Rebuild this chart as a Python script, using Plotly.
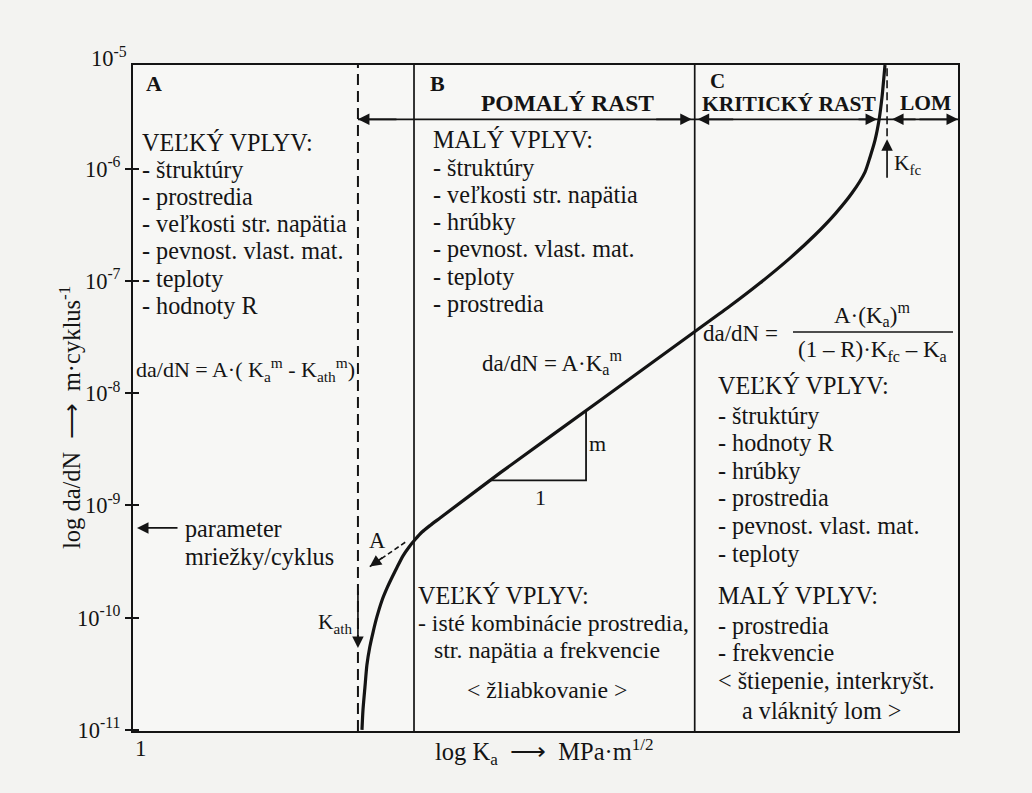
import math
import plotly.graph_objects as go

# Fatigue crack growth curve: stress intensity amplitude K_a (MPa·m^1/2)
# against crack growth rate da/dN (m per cycle)
K_CURVE = [3.59, 3.61, 3.65, 3.69, 3.75, 3.82, 3.90, 4.01, 4.13, 4.25, 4.37,
           4.51, 4.67, 4.83, 5.02, 5.25, 5.55, 7.76, 13.56, 23.30, 28.01,
           33.11, 39.15, 45.01, 50.32, 55.34, 59.50, 61.19, 62.93, 64.35,
           65.44, 66.53]
DADN_CURVE = [1.0e-11, 1.50e-11, 2.41e-11, 3.78e-11, 5.48e-11, 7.45e-11,
              1.01e-10, 1.41e-10, 1.84e-10, 2.30e-10, 2.83e-10, 3.54e-10,
              4.27e-10, 4.97e-10, 5.80e-10, 6.63e-10, 7.73e-10, 1.95e-9,
              8.61e-9, 3.66e-8, 5.98e-8, 9.59e-8, 1.60e-7, 2.57e-7, 3.95e-7,
              6.08e-7, 9.35e-7, 1.27e-6, 1.80e-6, 2.72e-6, 4.37e-6, 8.41e-6]

# Paris line extrapolated below the knee (point "A")
K_EXTRAP = [4.57, 3.75]
DADN_EXTRAP = [4.7e-10, 2.85e-10]

# slope triangle (1 : m) on the Paris line
K_TRIANGLE = [7.34, 12.54, 12.54]
DADN_TRIANGLE = [1.67e-9, 1.67e-9, 6.98e-9]

# characteristic stress intensities and region boundaries
K_MIN, K_MAX = 1.0, 100.0
K_TH = 3.51      # threshold K_ath
K_AB = 4.80      # boundary of region A / B
K_BC = 23.0      # boundary of region B / C
K_FC = 67.3      # fracture toughness K_fc
RATE_MIN, RATE_MAX = 10 ** -11.01, 10 ** -5.075
REGION_LEVEL = 2.76e-6   # height of the growth-stage arrows
KATH_ARROW_TIP = 10 ** -10.27
KFC_ARROW_TIP = 1.83e-6
LATTICE_RATE = 6.3e-10   # lattice parameter per cycle

Y_TICKS = [1e-6, 1e-7, 1e-8, 1e-9, 1e-10, 1e-11]
Y_TICK_TEXT = ["10<sup>-6</sup>", "10<sup>-7</sup>", "10<sup>-8</sup>",
               "10<sup>-9</sup>", "10<sup>-10</sup>", "10<sup>-11</sup>"]

FONT = "Liberation Serif, Times New Roman, serif"
INK = "#141414"
FS = 24.2

# plot-area geometry (pixels)
L, T, W, H = 133, 65, 825, 666
FIG_W, FIG_H = 1032, 793


def px(x):
    return (x - L) / W


def py(y):
    return (T + H - y) / H


fig = go.Figure()

line_style = dict(color=INK, width=1.7)

# region boundaries
for k in (K_AB, K_BC):
    fig.add_trace(go.Scatter(x=[k, k], y=[RATE_MIN, RATE_MAX], mode="lines",
                             line=line_style, hoverinfo="skip"))
# threshold and fracture toughness (dashed)
fig.add_trace(go.Scatter(x=[K_TH, K_TH], y=[RATE_MIN, RATE_MAX], mode="lines",
                         line=dict(color=INK, width=2, dash="11px,6px"),
                         hoverinfo="skip"))
fig.add_trace(go.Scatter(x=[K_FC, K_FC], y=[1.95e-6, RATE_MAX], mode="lines",
                         line=dict(color=INK, width=1.6, dash="8px,4px"),
                         hoverinfo="skip"))
# growth-stage range line
fig.add_trace(go.Scatter(x=[K_TH, K_MAX], y=[REGION_LEVEL, REGION_LEVEL],
                         mode="lines", line=line_style, hoverinfo="skip"))

# main crack growth curve
fig.add_trace(go.Scatter(x=K_CURVE, y=DADN_CURVE, mode="lines",
                         line=dict(color=INK, width=3.2, shape="spline",
                                   smoothing=0.6),
                         hoverinfo="skip"))
# Paris line extrapolation
fig.add_trace(go.Scatter(x=K_EXTRAP, y=DADN_EXTRAP, mode="lines",
                         line=dict(color=INK, width=1.6, dash="5px,3px"),
                         hoverinfo="skip"))
# slope triangle
fig.add_trace(go.Scatter(x=K_TRIANGLE, y=DADN_TRIANGLE, mode="lines",
                         line=dict(color=INK, width=1.8), hoverinfo="skip"))

ann = []


def text(x, y, s, size=FS, anchor="left", bold=False, **kw):
    if bold:
        s = "<b>" + s + "</b>"
    ann.append(dict(x=px(x), y=py(y), xref="paper", yref="paper", text=s,
                    showarrow=False, xanchor=anchor, yanchor="middle",
                    font=dict(family=FONT, size=size, color=INK), **kw))


def lines(x, y0, dy, items, size=FS):
    for i, s in enumerate(items):
        text(x, y0 + i * dy, s, size=size)


def arrow(k, rate, ax, ay, standoff=0):
    ann.append(dict(x=math.log10(k), y=math.log10(rate), xref="x", yref="y",
                    text="", showarrow=True, arrowhead=2, arrowsize=1.35,
                    arrowwidth=1.7, arrowcolor=INK, ax=ax, ay=ay,
                    standoff=standoff))


# region letters and stage names
text(144, 84, "A", size=22, bold=True)
text(428, 84, "B", size=22, bold=True)
text(708, 81, "C", size=21, bold=True)
text(567, 103, "POMALÝ RAST", size=23.5, anchor="center", bold=True)
text(789, 104, "KRITICKÝ RAST", size=21.5, anchor="center", bold=True)
text(925, 103, "LOM", size=21.5, anchor="center", bold=True)

# stage arrows along the range line
arrow(K_TH, REGION_LEVEL, 40, 0)
arrow(K_BC, REGION_LEVEL, -40, 0, standoff=3)
arrow(K_BC, REGION_LEVEL, 40, 0, standoff=3)
arrow(K_FC, REGION_LEVEL, -30, 0, standoff=10)
arrow(K_FC, REGION_LEVEL, 30, 0, standoff=5)
arrow(K_MAX, REGION_LEVEL, -40, 0)

# region A
lines(140, 142, 27.2, ["VEĽKÝ VPLYV:", "- štruktúry", "- prostredia",
                       "- veľkosti str. napätia", "- pevnost. vlast. mat.",
                       "- teploty", "- hodnoty R"])
text(134, 370, "da/dN = A·( K<sub>a</sub><sup>m</sup> - "
               "K<sub>ath</sub><sup>m</sup>)", size=22)

# region B
lines(431, 140, 27.2, ["MALÝ VPLYV:", "- štruktúry", "- veľkosti str. napätia",
                       "- hrúbky", "- pevnost. vlast. mat.", "- teploty",
                       "- prostredia"])
text(552, 362, "da/dN = A·K<sub>a</sub><sup>m</sup>", size=23,
     anchor="center")
text(597, 443, "m", size=22, anchor="center")
text(540, 497, "1", size=22, anchor="center")
text(416, 595, "VEĽKÝ VPLYV:")
text(416, 623, "- isté kombinácie prostredia,", size=23.8)
text(547, 650, "str. napätia a frekvencie", anchor="center", size=23.8)
text(547, 690, "&lt; žliabkovanie &gt;", anchor="center", size=23.8)

# region C
text(701, 333, "da/dN =", size=23)
text(872, 314, "A·(K<sub>a</sub>)<sup>m</sup>", size=23, anchor="center")
text(872, 351, "(1 – R)·K<sub>fc</sub> – K<sub>a</sub>", size=23,
     anchor="center")
text(716, 385, "VEĽKÝ VPLYV:")
lines(716, 415, 27.6, ["- štruktúry", "- hodnoty R", "- hrúbky",
                       "- prostredia", "- pevnost. vlast. mat.", "- teploty"])
text(716, 595, "MALÝ VPLYV:")
lines(716, 625, 27.5, ["- prostredia", "- frekvencie",
                       "&lt; štiepenie, interkryšt."])
text(740, 710, "a vláknitý lom &gt;")

# threshold, toughness and point A
arrow(K_TH, KATH_ARROW_TIP, 0, -58)
text(354, 623, "K<sub>ath</sub>", size=21.5, anchor="right")
arrow(K_FC, KFC_ARROW_TIP, 0, 40)
text(892, 165, "K<sub>fc</sub>", size=21.5)
arrow(K_EXTRAP[1], DADN_EXTRAP[1], 14, -10)
text(377, 540, "A", size=22.5, anchor="center")

# lattice parameter marker on the rate axis
arrow(K_MIN, LATTICE_RATE, 46, 0, standoff=4)
text(183, 528, "parameter")
text(183, 556, "mriežky/cyklus")

# axis labels
text(129, 57, "10<sup>-5</sup>", size=22.5, anchor="right")
text(141, 748, "1", size=23, anchor="center")
text(544, 752, "log K<sub>a</sub>  ⟶  MPa·m<sup>1/2</sup>", size=24.5,
     anchor="center")
ann.append(dict(x=px(70), y=py(418), xref="paper", yref="paper",
                text="log da/dN  ⟶  m·cyklus<sup>-1</sup>", showarrow=False,
                textangle=-90, xanchor="center", yanchor="middle",
                font=dict(family=FONT, size=24.5, color=INK)))

# fraction bar
shapes = [dict(type="line", xref="paper", yref="paper", x0=px(793),
               x1=px(953), y0=py(332), y1=py(332),
               line=dict(color=INK, width=1.4))]

axis_common = dict(showgrid=False, zeroline=False, showline=True,
                   linecolor=INK, linewidth=2, mirror=True)

fig.update_layout(
    width=FIG_W, height=FIG_H,
    margin=dict(l=L, r=FIG_W - L - W, t=T, b=FIG_H - T - H),
    paper_bgcolor="#f3f3f1", plot_bgcolor="#f7f7f5",
    showlegend=False,
    font=dict(family=FONT, color=INK),
    xaxis=dict(type="log", range=[math.log10(K_MIN), math.log10(K_MAX)],
               showticklabels=False, ticks="", **axis_common),
    yaxis=dict(type="log", range=[math.log10(RATE_MIN), math.log10(RATE_MAX)],
               tickvals=Y_TICKS, ticktext=Y_TICK_TEXT, ticks="outside",
               ticklen=6, tickwidth=1.5, tickcolor=INK,
               tickfont=dict(family=FONT, size=22.5, color=INK),
               **axis_common),
    yaxis2=dict(type="log", overlaying="y",
                range=[math.log10(RATE_MIN), math.log10(RATE_MAX)],
                tickvals=Y_TICKS, ticks="inside", ticklen=6, tickwidth=1.5,
                tickcolor=INK, showticklabels=False, showgrid=False,
                zeroline=False, side="left"),
    annotations=ann,
    shapes=shapes,
)
# invisible point so the inner tick axis is rendered
fig.add_trace(go.Scatter(x=[K_MIN], y=[RATE_MIN], yaxis="y2", mode="markers",
                         marker=dict(opacity=0), hoverinfo="skip"))

fig.write_html("out.html", config={"displayModeBar": False})
